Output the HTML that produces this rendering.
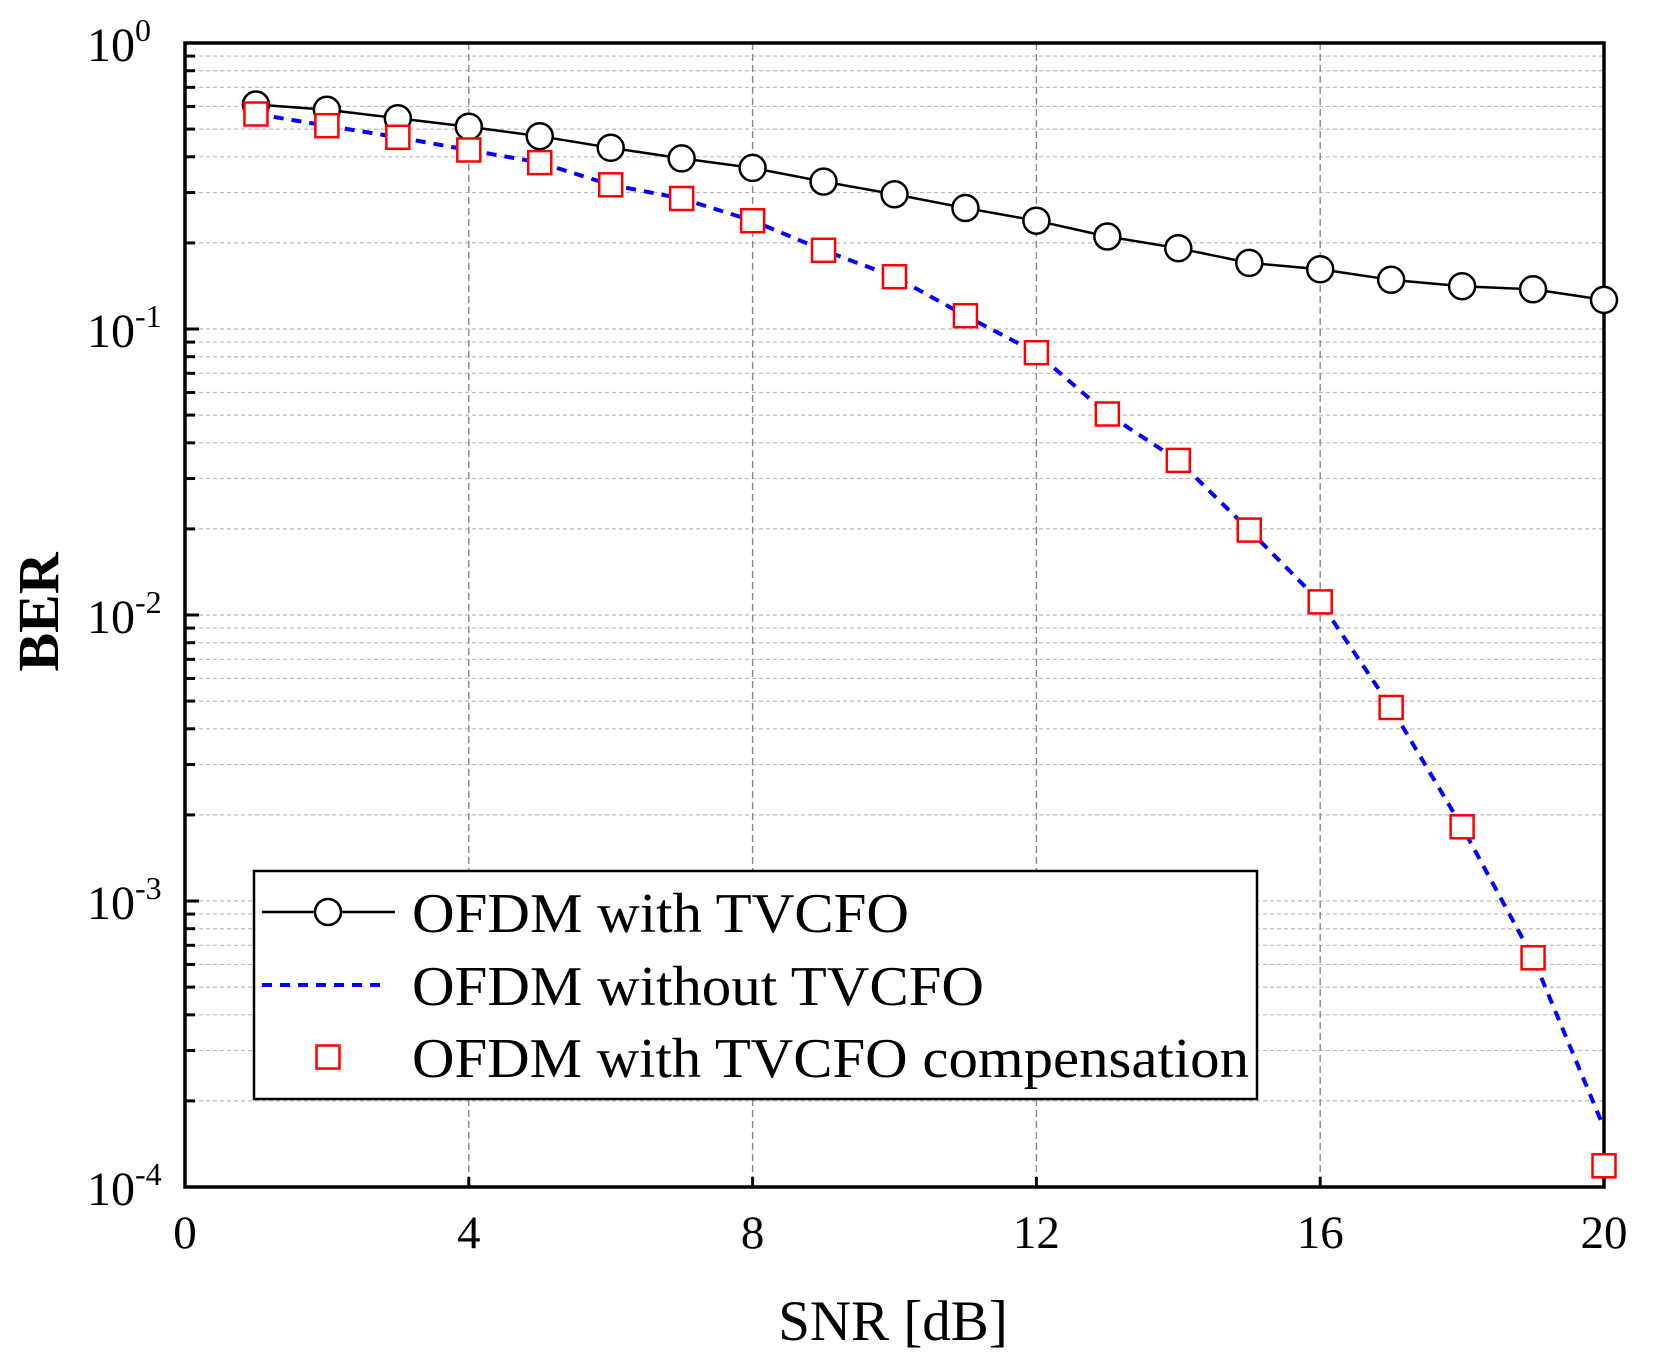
<!DOCTYPE html>
<html><head><meta charset="utf-8"><style>html,body{margin:0;padding:0;background:#fff}svg{display:block}</style></head>
<body>
<svg width="1656" height="1372" viewBox="0 0 1656 1372" xmlns="http://www.w3.org/2000/svg" font-family="'Liberation Serif', serif">
<g id="grid"></g>
<g id="axes"></g>
<script>
(function(){
var ns="http://www.w3.org/2000/svg";
var L=185,R=1604,T=43,B=1187,D=286;
function X(v){return L+v*(R-L)/20;}
function Y(v){return B-(Math.log10(v)+4)*D;}
function el(t,a,p){var e=document.createElementNS(ns,t);for(var k in a)e.setAttribute(k,a[k]);(p||document.querySelector('svg')).appendChild(e);return e;}
var svg=document.querySelector('svg');
// horizontal grid
for(var d=-4;d<0;d++){for(var m=1;m<=9;m++){var v=m*Math.pow(10,d);var y=Y(v);if(y<=T+1||y>=B-1)continue;
el('line',{x1:L,x2:R,y1:y,y2:y,stroke:'#bbb','stroke-width':1.2,'stroke-dasharray':'4 3'});
el('line',{x1:L,x2:L+(m==1?14:10),y1:y,y2:y,stroke:'#000','stroke-width':3});}}
// vertical grid
[4,8,12,16].forEach(function(v){var x=X(v);el('line',{x1:x,x2:x,y1:T,y2:B,stroke:'#888','stroke-width':1.4,'stroke-dasharray':'7 4'});
el('line',{x1:x,x2:x,y1:B,y2:B-10,stroke:'#000','stroke-width':3});});
// frame
el('rect',{x:L,y:T,width:R-L,height:B-T,fill:'none',stroke:'#000','stroke-width':3.5});
// series
var cy=[104.5,109.8,118.3,126.7,136.2,147.8,158.4,167.9,181.6,194.3,208,220.7,236.5,248.2,262.9,269.3,279.8,286.2,289.3,299.9];
var sy=[114,125.7,137.3,150,162.6,184.8,198.5,220.7,250.3,276.7,315.7,352.7,414,460.4,530.1,601.9,707.5,826.8,957.8,1165.8];
var p1=cy.map(function(y,i){return X(i+1)+','+y;}).join(' ');
var ly=sy.slice();ly[19]=1128;
var p2=ly.map(function(y,i){return X(i+1)+','+y;}).join(' ');
el('polyline',{points:p2,fill:'none',stroke:'#0000ff','stroke-width':4,'stroke-dasharray':'10 8'});
el('polyline',{points:p1,fill:'none',stroke:'#000','stroke-width':2.5});
cy.forEach(function(y,i){el('circle',{cx:X(i+1),cy:y,r:13,fill:'#fff',stroke:'#000','stroke-width':2.5});});
sy.forEach(function(y,i){el('rect',{x:X(i+1)-11.5,y:y-11.5,width:23,height:23,fill:'#fff',stroke:'#ff0000','stroke-width':2.5});});
// x labels
[0,4,8,12,16,20].forEach(function(v){var t=el('text',{x:X(v),y:1248,'font-size':47,'text-anchor':'middle'});t.textContent=v;});
// y labels
for(var d=0;d>=-4;d--){var y=Y(Math.pow(10,d));var t=el('text',{x:87,y:y+18,'font-size':48});t.textContent='10';
var s=el('text',{x:135,y:y-2,'font-size':32});s.textContent=(d==0?'0':String(d).replace('-','-'));}
// titles
var t=el('text',{x:893,y:1340,'font-size':57,'text-anchor':'middle'});t.textContent='SNR [dB]';
var b=el('text',{x:0,y:0,'font-size':58,'font-weight':'bold','text-anchor':'middle',transform:'translate(58,612) rotate(-90)'});b.textContent='BER';
// legend
el('rect',{x:254,y:871,width:1003,height:228,fill:'#fff',stroke:'#000','stroke-width':2.5});
el('line',{x1:262,x2:395,y1:912,y2:912,stroke:'#000','stroke-width':2.5});
el('circle',{cx:328,cy:912,r:13,fill:'#fff',stroke:'#000','stroke-width':2.5});
el('line',{x1:262,x2:388,y1:985,y2:985,stroke:'#0000ff','stroke-width':4,'stroke-dasharray':'10 8'});
el('rect',{x:316.5,y:1045.5,width:23,height:23,fill:'#fff',stroke:'#ff0000','stroke-width':2.5});
var l1=el('text',{x:412,y:932,'font-size':56,textLength:497,lengthAdjust:'spacingAndGlyphs'});l1.textContent='OFDM with TVCFO';
var l2=el('text',{x:412,y:1005,'font-size':56,textLength:572,lengthAdjust:'spacingAndGlyphs'});l2.textContent='OFDM without TVCFO';
var l3=el('text',{x:412,y:1077,'font-size':56,textLength:837,lengthAdjust:'spacingAndGlyphs'});l3.textContent='OFDM with TVCFO compensation';
})();
</script>
</svg>
</body></html>
